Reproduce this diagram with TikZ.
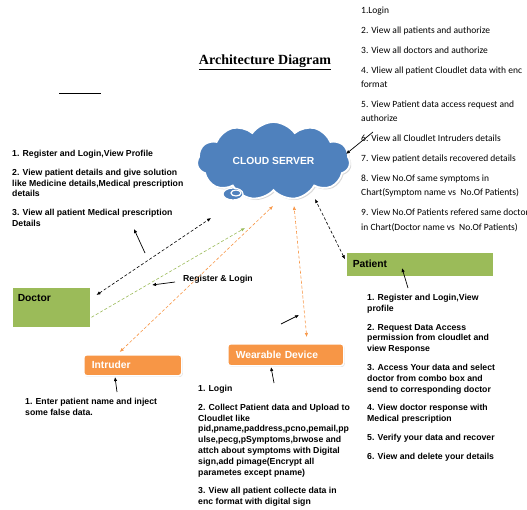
\documentclass[tikz,border=0pt]{standalone}
\usepackage{fontspec}
\setmainfont{Liberation Sans}
\newfontfamily\titlefont{Liberation Serif}
\newfontfamily\notefont{Carlito}
\usetikzlibrary{arrows.meta,shadows,shapes.symbols}
\definecolor{cloudblue}{HTML}{4F81BD}
\definecolor{boxgreen}{HTML}{9BBB59}
\definecolor{boxorange}{HTML}{F79646}

\begin{document}
\begin{tikzpicture}[
  x=1pt, y=-1pt,
  every node/.style={inner sep=0pt},
  >={Latex[length=4pt,width=3.4pt]},
  server/.style={cloud, cloud puffs=11, cloud puff arc=110, aspect=1.9,
    minimum width=153pt, minimum height=78pt, fill=cloudblue, draw=white,
    line width=1.8pt, text=white,
    drop shadow={opacity=.3, shadow xshift=1.5pt, shadow yshift=-1.5pt},
    font=\fontsize{10.3}{12}\selectfont\bfseries},
  greenbox/.style={fill=boxgreen, draw=white, line width=1.5pt,
    drop shadow={opacity=.25, shadow xshift=1pt, shadow yshift=-1.2pt},
    font=\fontsize{10.3}{12}\selectfont\bfseries, align=left},
  orangebox/.style={greenbox, fill=boxorange, rounded corners=3pt, text=white},
  steps/.style={anchor=north west, align=left,
    font=\fontsize{8.7}{10.8}\selectfont\bfseries},
  link/.style={line width=.6pt, dash pattern=on 3pt off 2pt},
  note/.style={->, line width=.7pt}
]
  \useasboundingbox (0,0) rectangle (527,509);

  \node[font=\titlefont\fontsize{14}{16}\selectfont\bfseries] (title) at (265,62)
    {\underline{Architecture Diagram}};
  \draw[line width=1pt] (59,93) -- (101,93);

  % cloud and its tail
  \node[server] (server) at (273.5,161) {CLOUD SERVER\hspace{17pt}};
  \draw[fill=cloudblue, draw=white, line width=1.2pt] (233,194) ellipse [x radius=10, y radius=6];
  \draw[fill=cloudblue, draw=white, line width=1.2pt] (236,193) ellipse [x radius=5, y radius=3];

  % boxes
  \node[greenbox, minimum width=79pt, minimum height=41pt, text width=67pt,
    text height=7.4pt, text depth=19pt, anchor=north west] (doctor) at (11,286) {Doctor};
  \node[greenbox, minimum width=148pt, minimum height=25pt, text width=134pt,
    anchor=north west] (patient) at (345,251) {Patient};
  \node[orangebox, minimum width=98pt, minimum height=21pt, text width=82pt,
    anchor=north west] (intruder) at (83,354) {Intruder};
  \node[orangebox, minimum width=116pt, minimum height=22pt, text width=100pt,
    anchor=north west] (device) at (227,343) {Wearable Device};

  % lists
  \node[anchor=north west, align=left, font=\notefont\fontsize{9.5}{14.5}\selectfont]
    (adminlist) at (361,7) {1.Login\\[5.3pt]
    2. View all patients and authorize\\[5.3pt]
    3. View all doctors and authorize\\[5.3pt]
    4. Vliew all patient Cloudlet data with enc\\format\\[5.3pt]
    5. View Patient data access request and\\authorize\\[5.3pt]
    6. View all Cloudlet Intruders details\\[5.3pt]
    7. View patient details recovered details\\[5.3pt]
    8. View No.Of same symptoms in\\Chart(Symptom name vs\ \ No.Of Patients)\\[5.3pt]
    9. View No.Of Patients refered same doctor\\in Chart(Doctor name vs\ \ No.Of Patients)};
  \node[steps] (doclist) at (12,150) {1. Register and Login,View Profile\\[8pt]
    2. View patient details and give solution\\like Medicine details,Medical prescription\\details\\[8pt]
    3. View all patient Medical prescription\\Details};
  \node[steps] (intlist) at (25,398) {1. Enter patient name and inject\\some false data.};
  \node[steps] (devlist) at (198,385) {1. Login\\[8pt]
    2. Collect Patient data and Upload to\\Cloudlet like\\pid,pname,paddress,pcno,pemail,pp\\ulse,pecg,pSymptoms,brwose and\\attch about symptoms with Digital\\sign,add pimage(Encrypt all\\parametes except pname)\\[8pt]
    3. View all patient collecte data in\\enc format with digital sign};
  \node[steps] (patlist) at (367,294) {1. Register and Login,View\\profile\\[8pt]
    2. Request Data Access\\permission from cloudlet and\\view Response\\[8pt]
    3. Access Your data and select\\doctor from combo box and\\send to corresponding doctor\\[8pt]
    4. View doctor response with\\Medical prescription\\[8pt]
    5. Verify your data and recover\\[8pt]
    6. View and delete your details};
  \node[steps, anchor=west] (reglabel) at (183,279) {Register \& Login};

  % dashed links to the server
  \coordinate (s-doc) at (211,218);
  \coordinate (s-green) at (245,228);
  \coordinate (s-int) at (273,206);
  \coordinate (s-dev) at (294,206);
  \coordinate (s-pat) at (315,199);
  \draw[link, <->] ([shift={(5,9)}]doctor.north east) -- (s-doc);
  \draw[link, ->, boxgreen] ([shift={(0,10)}]doctor.east) -- (s-green);
  \draw[link, <->, boxorange] ([shift={(-13,-2)}]intruder.north) -- (s-int);
  \draw[link, <->, boxorange] ([shift={(21,-6)}]device.north) -- (s-dev);
  \draw[link, <->] ([shift={(0,-5)}]patient.west) -- (s-pat);

  % pointers from the texts
  \coordinate (n-doc) at (145,253);
  \coordinate (n-reg) at (175,282);
  \coordinate (n-mid) at (281,324);
  \coordinate (n-int) at (117,392);
  \coordinate (n-dev) at (274,383);
  \coordinate (n-pat) at (408,288);
  \coordinate (n-adm) at (373,132);
  \draw[note] (n-doc) -- (134,229);
  \draw[note] (n-reg) -- (152,285);
  \draw[note] (n-mid) -- (299,315);
  \draw[note] (n-int) -- (115,377);
  \draw[note] (n-dev) -- (271,367);
  \draw[note] (n-pat) -- (402,268);
  \draw[note] (n-adm) -- (346,154);
\end{tikzpicture}
\end{document}
